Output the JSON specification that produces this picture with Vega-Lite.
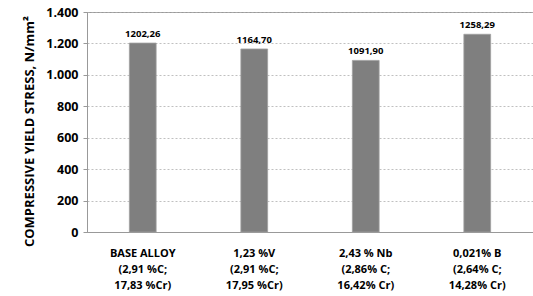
{
  "$schema": "https://vega.github.io/schema/vega-lite/v6.json",
  "autosize": "none",
  "width": 446,
  "height": 220,
  "padding": {"left": 87, "top": 12, "right": 0, "bottom": 64},
  "background": "white",
  "config": {
    "locale": {"number": {"decimal": ",", "thousands": ".", "grouping": [3], "currency": ["", ""]}},
    "view": {"stroke": "#999999", "strokeWidth": 1},
    "font": "Open Sans"
  },
  "data": {
    "values": [
      {"alloy": "BASE ALLOY|(2,91 %C;|17,83 %Cr)", "stress": 1202.26},
      {"alloy": "1,23 %V|(2,91 %C;|17,95 %Cr)", "stress": 1164.70},
      {"alloy": "2,43 % Nb|(2,86% C;|16,42% Cr)", "stress": 1091.90},
      {"alloy": "0,021% B|(2,64% C;|14,28% Cr)", "stress": 1258.29}
    ]
  },
  "encoding": {
    "x": {
      "field": "alloy", "type": "nominal", "sort": null,
      "scale": {"paddingInner": 0.76, "paddingOuter": 0.38},
      "axis": {
        "title": null, "labelAngle": 0, "ticks": false,
        "labelExpr": "split(datum.label, '|')",
        "labelFont": "Open Sans", "labelFontWeight": "bold", "labelFontSize": 11,
        "labelColor": "#000000", "labelPadding": 15, "labelLineHeight": 16,
        "domainColor": "#999999", "labelBaseline": "top"
      }
    },
    "y": {
      "field": "stress", "type": "quantitative",
      "scale": {"domain": [0, 1400]},
      "axis": {
        "values": [0, 200, 400, 600, 800, 1000, 1200, 1400],
        "format": ",.0f", "ticks": true, "tickSize": 4, "tickColor": "#999999",
        "domainColor": "#999999",
        "gridColor": "#b0b0b0", "gridDash": [2, 2], "gridWidth": 0.8,
        "labelFont": "Open Sans", "labelFontWeight": "bold", "labelFontSize": 12.5,
        "labelColor": "#000000", "labelPadding": 5,
        "title": "COMPRESSIVE YIELD STRESS, N/mm²",
        "titleFont": "Open Sans", "titleFontWeight": "bold", "titleFontSize": 13,
        "titleColor": "#000000", "titlePadding": 9, "titleY": 119
      }
    }
  },
  "layer": [
    {"mark": {"type": "bar", "color": "#7f7f7f", "stroke": "#a0a0a0", "strokeWidth": 0.8}},
    {
      "mark": {"type": "text", "dy": -9, "font": "Open Sans", "fontWeight": "bold", "fontSize": 9.5, "color": "#000000"},
      "encoding": {"text": {"field": "stress", "type": "quantitative", "format": ".2f"}}
    }
  ]
}
